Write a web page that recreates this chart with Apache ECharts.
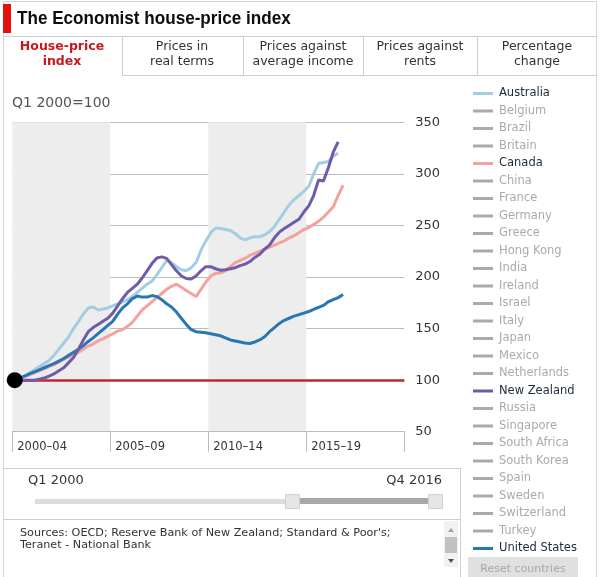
<!DOCTYPE html>
<html><head><meta charset="utf-8">
<script src="https://cdn.jsdelivr.net/npm/echarts@6/dist/echarts.min.js"></script>
<style>html,body{margin:0;padding:0;background:#fff}#c{width:600px;height:577px}</style>
</head><body><div id="c"></div>
<script>
// ---- data ----
const startYear = 2000;
const countries = ['Australia','Belgium','Brazil','Britain','Canada','China','France','Germany','Greece','Hong Kong','India','Ireland','Israel','Italy','Japan','Mexico','Netherlands','New Zealand','Russia','Singapore','South Africa','South Korea','Spain','Sweden','Switzerland','Turkey','United States'];
const shown = ['Australia','Canada','New Zealand','United States'];
const colors = {'Australia':'#a3cde2','Canada':'#f4a29f','New Zealand':'#6f5ca9','United States':'#2877b2'};
// quarterly index values, Q1 2000 = 100
const australia = [100,102,104,107, 110,113,116,119, 124,130,136,142, 150,157,164,170,
  171,168,169,170, 172,174,176,178, 181,185,189,193, 196,202,209,216, 214,210,207,206,
  209,214,226,235, 243,247.5,247,246, 245,242,238,236, 238,239,239,241, 244,249,256,263,
  270,275,279,283, 288,300,310,311, 312,317,320];
const canada = [100,102,103.5,105, 107,109,111,113, 115,117.5,120,122.5, 125,127,130,133,
  135,138,140,142.5, 145,147.5,149,152, 156,162,168,172, 176,180,184,188, 191,193,190,187,
  184,181,188,195, 201,203.5,204,206, 210,214,216,218, 221,223,225,227, 229,231,233,235,
  238,240,243,246, 248,251,254,258, 263,268,279,289];
const newZealand = [100,100,100,100, 100,101,102,104, 106,109,112,117, 122,130,139,147,
  151,154,157,160, 165,172,179,185, 189,193,199,206, 213,218.5,219.5,218, 212,206,201,198.5,
  198,201,206,210, 210,208,206.5,207, 208,209,211,212.5, 215,219,222,227, 231,238,243.5,247,
  250,253,256,263, 269,279,294,293, 306,321,331];
const unitedStates = [100,102,104,106, 108,110,112,114, 116,118.5,121,124, 127,130,133.5,137.5,
  141,145,149,153, 157,164,170,174, 179,181.5,180.5,180.5, 182,181,178,174, 171,166,160,154,
  149,147,146.5,146, 145,144,143,141, 139,138,137,136, 135.5,137,139,142, 147,151,155,158,
  160,162,163.5,165, 166.5,168.5,170.5,172.5, 176,178,180,183];
const seriesValues = {'Australia':australia,'Canada':canada,'New Zealand':newZealand,'United States':unitedStates};
const periodLabels = ['2000–04','2005–09','2010–14','2015–19'];
const shadedPeriods = [[2000,2005],[2010,2015]];
const yTicks = {min:50,max:350,interval:50};
const tabs = ['House-price\nindex','Prices in\nreal terms','Prices against\naverage income','Prices against\nrents','Percentage\nchange'];
const sourceText = "Sources: OECD; Reserve Bank of New Zealand; Standard & Poor's;\nTeranet - National Bank";

// quarter i -> decimal year at mid-quarter
const qx = i => startYear + (i + 0.5) / 4;

const F = 'DejaVu Sans';
const chart = echarts.init(document.getElementById('c'), null, {renderer:'canvas'});

const series = [];
// background bands
series.push({
  name:'_bands', type:'line', data:[], z:0, silent:true,
  markArea:{silent:true, itemStyle:{color:'#ededed'},
    data: shadedPeriods.map(p => [{xAxis:p[0]},{xAxis:p[1]}])}
});
const drawOrder = ['Australia','Canada','United States','New Zealand'];
countries.forEach(c => {
  if (shown.includes(c)) return;
  series.push({name:c, type:'line', data:[], showSymbol:false, itemStyle:{color:'#aaa'}});
});
series.push({
  name:'_base', type:'line', data:[], z:2, silent:true,
  markLine:{silent:true, symbol:['none','none'], label:{show:false},
    lineStyle:{color:'#c0272d', width:2.5, type:'solid'},
    data:[[{coord:[qx(0),100]},{coord:[2020,100]}]]}
});
drawOrder.forEach((c,k) => {
  series.push({
    name:c, type:'line', z:3+k, showSymbol:false, symbol:'none', smooth:false,
    color:colors[c],
    lineStyle:{color:colors[c], width:3},
    data: seriesValues[c].map((v,i)=>[qx(i), v])
  });
});
series.push({name:'_start', type:'scatter', z:10, silent:true, symbolSize:16,
  itemStyle:{color:'#000', opacity:1}, data:[[qx(0),100]]});

const selected = {};
countries.forEach(c => selected[c] = shown.includes(c));

const gl = (x1,y1,x2,y2,col) => ({type:'line', shape:{x1,y1,x2,y2}, style:{stroke:col||'#cfcfcf', lineWidth:1}, silent:true});
const tabCenters = [62,182,303,420,537];
const graphics = [
  {type:'rect', shape:{x:3.5,y:1.5,width:593,height:590}, style:{fill:'none', stroke:'#d4d4d4', lineWidth:1}, silent:true},
  {type:'rect', shape:{x:3,y:4,width:8,height:29}, style:{fill:'#e3120b'}, silent:true},
  {type:'text', x:17, y:19, scaleX:0.9, style:{text:'The Economist house-price index', font:'bold 19px "Liberation Sans", sans-serif', fill:'#0d0d0d', textVerticalAlign:'middle'}, silent:true},
  gl(3,36.5,597,36.5),
  gl(122.5,36,122.5,75), gl(243.5,36,243.5,75), gl(363.5,36,363.5,75), gl(477.5,36,477.5,75),
  gl(122,75.5,597,75.5),
  {type:'text', x:12, y:103, style:{text:'Q1 2000=100', font:'14px "'+F+'"', fill:'#555', textVerticalAlign:'middle'}, silent:true},
  // slider box
  gl(3,468.5,461,468.5), gl(460.5,468,460.5,577), gl(3,519.5,461,519.5),
  {type:'text', x:28, y:481, style:{text:'Q1 2000', font:'13px "'+F+'"', fill:'#333', textVerticalAlign:'middle'}, silent:true},
  {type:'text', x:442, y:481, style:{text:'Q4 2016', font:'13px "'+F+'"', fill:'#333', textVerticalAlign:'middle', textAlign:'right'}, silent:true},
  {type:'rect', shape:{x:35,y:499,width:253,height:5}, style:{fill:'#dcdcdc'}, silent:true},
  {type:'rect', shape:{x:300,y:498,width:129,height:6}, style:{fill:'#a8a8a8'}, silent:true},
  {type:'rect', shape:{x:285.5,y:494.5,width:14,height:14}, style:{fill:'#e6e6e6', stroke:'#cfcfcf'}, silent:true},
  {type:'rect', shape:{x:428.5,y:494.5,width:14,height:14}, style:{fill:'#e6e6e6', stroke:'#cfcfcf'}, silent:true},
  {type:'text', x:20, y:539, style:{text:sourceText, font:'11.2px "'+F+'"', fill:'#333', textVerticalAlign:'middle', lineHeight:12}, silent:true},
  // scrollbar
  {type:'rect', shape:{x:444,y:521,width:14,height:46}, style:{fill:'#f1f1f1'}, silent:true},
  {type:'rect', shape:{x:445,y:537,width:12,height:16}, style:{fill:'#c1c1c1'}, silent:true},
  {type:'polygon', shape:{points:[[448,532],[454,532],[451,528]]}, style:{fill:'#a3a3a3'}, silent:true},
  {type:'polygon', shape:{points:[[448,559],[454,559],[451,563]]}, style:{fill:'#505050'}, silent:true},
  // reset button
  {type:'rect', shape:{x:468,y:557,width:110,height:22}, style:{fill:'#e0e0e0'}, silent:true},
  {type:'text', x:523, y:569, style:{text:'Reset countries', font:'11px "'+F+'"', fill:'#a8a8a8', textAlign:'center', textVerticalAlign:'middle'}, silent:true}
];
tabs.forEach((t,i) => {
  graphics.push({type:'text', x:tabCenters[i], y:54, silent:true, style:{
    text:t, textAlign:'center', textVerticalAlign:'middle', lineHeight:15,
    font: i===0 ? 'bold 12.5px "'+F+'"' : '12.5px "'+F+'"',
    fill: i===0 ? '#c8161d' : '#333'}});
});

chart.setOption({
  animation:false,
  backgroundColor:'#fff',
  textStyle:{fontFamily:F},
  grid:{left:12.3, top:122.3, width:392, height:309.4, containLabel:false},
  xAxis:{type:'value', min:2000, max:2020, interval:5, z:1,
    axisLine:{show:true, lineStyle:{color:'#bcbcbc', width:1}},
    axisTick:{show:true, length:20, lineStyle:{color:'#bcbcbc'}},
    splitLine:{show:false},
    axisLabel:{show:true, align:'left', margin:9, padding:[0,0,0,5], color:'#333', fontSize:11.5, fontFamily:F,
      formatter: v => { const k=(v-2000)/5; return periodLabels[k] || ''; }}
  },
  yAxis:{type:'value', position:'right', min:yTicks.min, max:yTicks.max, interval:yTicks.interval, z:1,
    axisLine:{show:false}, axisTick:{show:false},
    splitLine:{show:true, lineStyle:{color:'#bcbcbc', width:1}},
    axisLabel:{margin:11, color:'#333', fontSize:13, fontFamily:F}
  },
  legend:{orient:'vertical', left:473, top:86, padding:0, itemWidth:20, itemHeight:3, itemGap:2.5,
    icon:'rect', data:countries, selected:selected, inactiveColor:'#aaa',
    textStyle:{color:'#1c2b3a', fontSize:11.5, fontFamily:F, lineHeight:15, padding:[0,0,0,1]}},
  series: series,
  graphic: graphics
});
</script></body></html>
